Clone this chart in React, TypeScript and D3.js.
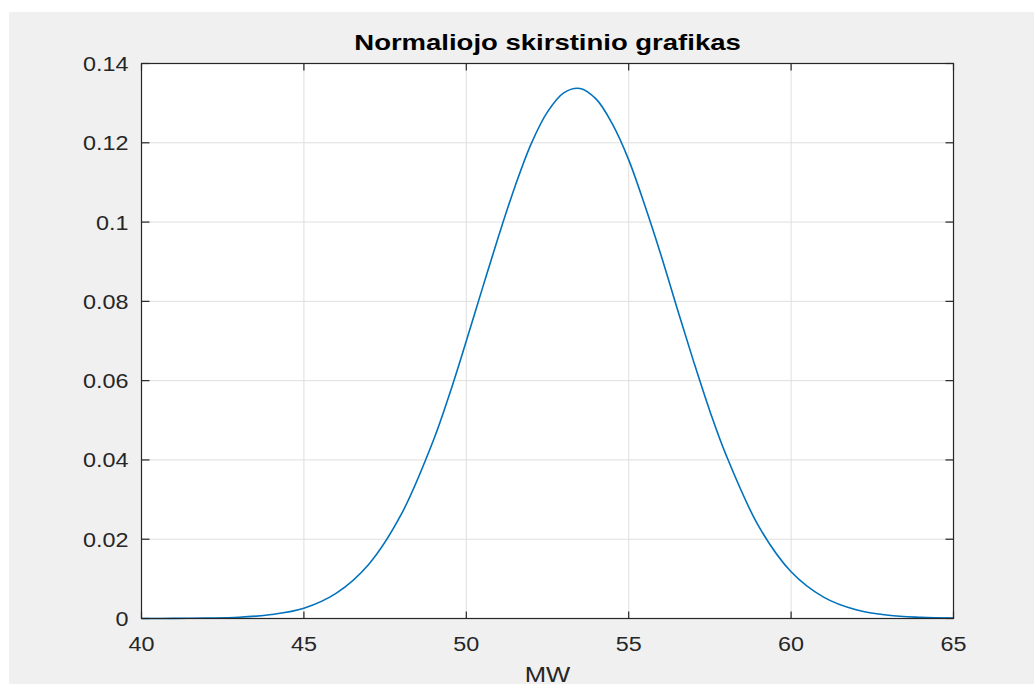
import React from "react";
import * as d3 from "d3";

const xValues = [40, 41, 42, 43, 44, 45, 46, 47, 48, 49, 49.5, 50, 50.5, 51, 51.5, 52, 52.5, 53, 53.5, 54, 54.5, 55, 55.5, 56, 56.5, 57, 57.5, 58, 59, 60, 61, 62, 63, 64, 65];
const yValues = [0.0000, 0.00002, 0.0001, 0.0003, 0.0010, 0.0026, 0.0064, 0.0137, 0.0263, 0.0452, 0.0570, 0.0700, 0.0834, 0.0966, 0.1090, 0.1198, 0.1278, 0.1326, 0.1337, 0.1310, 0.1247, 0.1157, 0.1041, 0.0915, 0.0780, 0.0648, 0.0523, 0.0412, 0.0233, 0.0118, 0.0054, 0.0022, 0.0008, 0.0003, 0.0001];
const xTicks = [40, 45, 50, 55, 60, 65];
const yTicks = [0, 0.02, 0.04, 0.06, 0.08, 0.1, 0.12, 0.14];
const yTickLabels = ["0", "0.02", "0.04", "0.06", "0.08", "0.1", "0.12", "0.14"];
const title = "Normaliojo skirstinio grafikas";
const xLabel = "MW";

const W = 1034;
const H = 684;
const left = 141.5;
const right = 953.5;
const top = 63.5;
const bottom = 618.5;

export default function App() {
  const x = d3.scaleLinear().domain([40, 65]).range([left, right]);
  const y = d3.scaleLinear().domain([0, 0.14]).range([bottom, top]);
  const pts = xValues.map((v, i) => [v, yValues[i]] as [number, number]);
  const line = d3
    .line<[number, number]>()
    .x((d) => x(d[0]))
    .y((d) => y(d[1]))
    .curve(d3.curveCatmullRom.alpha(0.5));
  const font = "Liberation Sans, Arial, sans-serif";
  const tickColor = "#262626";
  const sx = 1.14;
  return (
    <svg
      width={W}
      height={H}
      style={{ position: "absolute", left: 0, top: 0 }}
      xmlns="http://www.w3.org/2000/svg"
    >
      <rect x={0} y={0} width={W} height={H} fill="#ffffff" />
      <rect x={9} y={12} width={W - 9} height={H - 12} fill="#f0f0f0" />
      <rect x={left} y={top} width={right - left} height={bottom - top} fill="#ffffff" />
      {/* grid */}
      {xTicks.slice(1, -1).map((t) => (
        <line key={"gx" + t} x1={x(t)} x2={x(t)} y1={top} y2={bottom} stroke="#dfdfdf" strokeWidth={1} />
      ))}
      {yTicks.slice(1, -1).map((t) => (
        <line key={"gy" + t} x1={left} x2={right} y1={y(t)} y2={y(t)} stroke="#dfdfdf" strokeWidth={1} />
      ))}
      {/* curve */}
      <path d={line(pts) || ""} fill="none" stroke="#0072BD" strokeWidth={1.6} />
      {/* axes box */}
      <rect x={left} y={top} width={right - left} height={bottom - top} fill="none" stroke={tickColor} strokeWidth={1.2} />
      {/* ticks */}
      {xTicks.map((t) => (
        <g key={"tx" + t}>
          <line x1={x(t)} x2={x(t)} y1={bottom} y2={bottom - 7} stroke={tickColor} strokeWidth={1.2} />
          <line x1={x(t)} x2={x(t)} y1={top} y2={top + 7} stroke={tickColor} strokeWidth={1.2} />
          <text
            transform={`translate(${x(t)},${651}) scale(${sx},1)`}
            textAnchor="middle"
            fontFamily={font}
            fontSize={20.5}
            fill={tickColor}
          >
            {String(t)}
          </text>
        </g>
      ))}
      {yTicks.map((t, i) => (
        <g key={"ty" + t}>
          <line x1={left} x2={left + 8} y1={y(t)} y2={y(t)} stroke={tickColor} strokeWidth={1.2} />
          <line x1={right} x2={right - 8} y1={y(t)} y2={y(t)} stroke={tickColor} strokeWidth={1.2} />
          <text
            transform={`translate(${128.5},${y(t) + 7.5}) scale(${sx},1)`}
            textAnchor="end"
            fontFamily={font}
            fontSize={20.5}
            fill={tickColor}
          >
            {yTickLabels[i]}
          </text>
        </g>
      ))}
      {/* title */}
      <text
        transform={`translate(${(left + right) / 2},${49.5}) scale(1.25,1)`}
        textAnchor="middle"
        fontFamily={font}
        fontSize={22}
        fontWeight="bold"
        fill="#000000"
      >
        {title}
      </text>
      {/* x label */}
      <text
        transform={`translate(${(left + right) / 2},${682}) scale(${sx},1)`}
        textAnchor="middle"
        fontFamily={font}
        fontSize={22.5}
        fill={tickColor}
      >
        {xLabel}
      </text>
    </svg>
  );
}
